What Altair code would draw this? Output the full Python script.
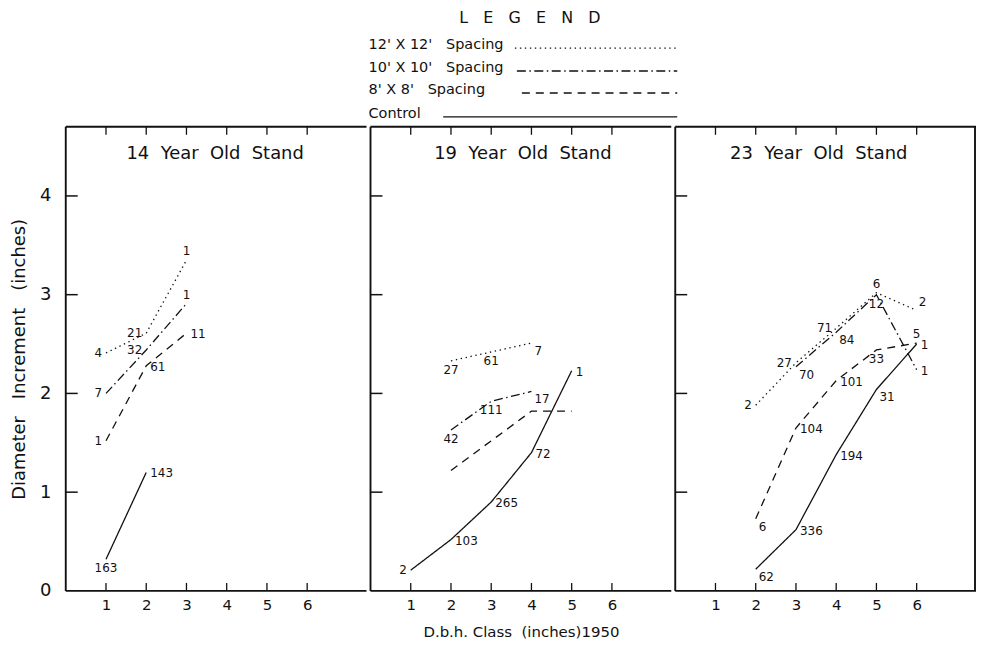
import altair as alt
import pandas as pd

FONT = "DejaVu Sans"
INK = "#111111"
NB = "\u00a0"

# ---------------- data ----------------
stands = ["14 Year Old Stand", "19 Year Old Stand", "23 Year Old Stand"]
spacings = ["12' X 12'" + NB * 3 + "Spacing", "10' X 10'" + NB * 3 + "Spacing",
            "8' X 8'" + NB * 3 + "Spacing", "Control"]
dbh_ticks = [1, 2, 3, 4, 5, 6]
increment_ticks = [0, 1, 2, 3, 4]
inner_y_ticks = [1, 2, 3, 4]
x_title = "D.b.h." + NB + "Class" + NB * 2 + "(inches)1950"
y_title = "Diameter" + NB * 3 + "Increment" + NB * 3 + "(inches)"
legend_title = "L E G E N D"

# 14 year old stand
s14_12_x = [1, 2, 3]
s14_12_y = [2.41, 2.61, 3.35]
s14_12_n = ["4", "21", "1"]
s14_12_pos = ["l", "l", "a"]
s14_10_x = [1, 2, 3]
s14_10_y = [2.0, 2.44, 2.91]
s14_10_n = ["7", "32", "1"]
s14_10_pos = ["l", "l", "a"]
s14_8_x = [1, 2, 3]
s14_8_y = [1.52, 2.28, 2.61]
s14_8_n = ["1", "61", "11"]
s14_8_pos = ["l", "r", "r"]
s14_c_x = [1, 2]
s14_c_y = [0.32, 1.2]
s14_c_n = ["163", "143"]
s14_c_pos = ["b", "r"]

# 19 year old stand
s19_12_x = [2, 3, 4]
s19_12_y = [2.33, 2.42, 2.51]
s19_12_n = ["27", "61", "7"]
s19_12_pos = ["b", "b", "br"]
s19_10_x = [2, 3, 4]
s19_10_y = [1.63, 1.92, 2.02]
s19_10_n = ["42", "111", "17"]
s19_10_pos = ["b", "b", "br"]
s19_8_x = [2, 4, 5]
s19_8_y = [1.22, 1.82, 1.82]
s19_8_n = ["", "", ""]
s19_8_pos = ["r", "r", "r"]
s19_c_x = [1, 2, 3, 4, 5]
s19_c_y = [0.21, 0.52, 0.9, 1.4, 2.23]
s19_c_n = ["2", "103", "265", "72", "1"]
s19_c_pos = ["l", "r", "r", "r", "r"]

# 23 year old stand
s23_12_x = [2, 3, 4, 5, 6]
s23_12_y = [1.88, 2.31, 2.66, 3.02, 2.84]
s23_12_n = ["2", "27", "71", "6", "2"]
s23_12_pos = ["l", "l", "l", "a", "ar"]
s23_10_x = [3, 4, 5, 6]
s23_10_y = [2.27, 2.62, 3.0, 2.24]
s23_10_n = ["70", "84", "12", "1"]
s23_10_pos = ["br", "br", "b", "r"]
s23_8_x = [2, 3, 4, 5, 6]
s23_8_y = [0.73, 1.65, 2.13, 2.44, 2.51]
s23_8_n = ["6", "104", "101", "33", "5"]
s23_8_pos = ["br", "r", "r", "b", "a"]
s23_c_x = [2, 3, 4, 5, 6]
s23_c_y = [0.22, 0.62, 1.38, 2.04, 2.5]
s23_c_n = ["62", "336", "194", "31", "1"]
s23_c_pos = ["br", "r", "r", "br", "r"]

records = []


def add(stand, series, xs, ys, ns, ps):
    for x, y, n, p in zip(xs, ys, ns, ps):
        records.append(dict(stand=stand, series=series, x=x, y=y, n=n, pos=p))


add(stands[0], spacings[0], s14_12_x, s14_12_y, s14_12_n, s14_12_pos)
add(stands[0], spacings[1], s14_10_x, s14_10_y, s14_10_n, s14_10_pos)
add(stands[0], spacings[2], s14_8_x, s14_8_y, s14_8_n, s14_8_pos)
add(stands[0], spacings[3], s14_c_x, s14_c_y, s14_c_n, s14_c_pos)
add(stands[1], spacings[0], s19_12_x, s19_12_y, s19_12_n, s19_12_pos)
add(stands[1], spacings[1], s19_10_x, s19_10_y, s19_10_n, s19_10_pos)
add(stands[1], spacings[2], s19_8_x, s19_8_y, s19_8_n, s19_8_pos)
add(stands[1], spacings[3], s19_c_x, s19_c_y, s19_c_n, s19_c_pos)
add(stands[2], spacings[0], s23_12_x, s23_12_y, s23_12_n, s23_12_pos)
add(stands[2], spacings[1], s23_10_x, s23_10_y, s23_10_n, s23_10_pos)
add(stands[2], spacings[2], s23_8_x, s23_8_y, s23_8_n, s23_8_pos)
add(stands[2], spacings[3], s23_c_x, s23_c_y, s23_c_n, s23_c_pos)
df = pd.DataFrame(records)

# ---------------- styling / layout ----------------
W, H = 302, 466
XS = alt.Scale(domain=[0, 7.475], nice=False, zero=False)
YS = alt.Scale(domain=[0, 4.7], nice=False, zero=False)
DASHES = [[1.4, 3.6], [9, 3.5, 1.5, 3.5], [8, 6], [1, 0]]
DASH = alt.Scale(domain=spacings, range=DASHES)
FRAME_W = 1.9

ANCHORS = {
    "l": dict(align="right", dx=-4, dy=0),
    "r": dict(align="left", dx=4, dy=1),
    "a": dict(align="center", dx=0, dy=-9),
    "b": dict(align="center", dx=0, dy=9),
    "br": dict(align="left", dx=3, dy=8),
    "ar": dict(align="left", dx=2, dy=-8),
}
TITLE_DX = [-1, 2, -7]


def panel(i):
    stand = stands[i]
    sub = df[df["stand"] == stand]
    xaxis = alt.Axis(
        values=dbh_ticks, ticks=False, domain=False, grid=False,
        labelFont=FONT, labelFontSize=15, labelColor=INK, labelPadding=7,
        title=x_title if i == 1 else "", titleFont=FONT, titleFontSize=15,
        titleFontWeight="normal", titleColor=INK, titlePadding=12,
    )
    if i == 0:
        yaxis = alt.Axis(
            values=increment_ticks, ticks=False, domain=False, grid=False,
            labelFont=FONT, labelFontSize=18, labelColor=INK, labelPadding=15,
            title=y_title, titleFont=FONT, titleFontSize=18,
            titleFontWeight="normal", titleColor=INK, titlePadding=11,
        )
    else:
        yaxis = None

    def X():
        return alt.X("x:Q", scale=XS, axis=xaxis)

    def Y():
        return alt.Y("y:Q", scale=YS, axis=yaxis)

    lines = alt.Chart(sub).mark_line(color=INK, strokeWidth=1.3).encode(
        x=X(),
        y=Y(),
        strokeDash=alt.StrokeDash("series:N", scale=DASH, legend=None),
        order=alt.Order("x:Q"),
    )
    layers = [lines]
    for code, a in ANCHORS.items():
        layers.append(
            alt.Chart(sub)
            .transform_filter(alt.datum.pos == code)
            .mark_text(font=FONT, fontSize=12, color=INK, baseline="middle",
                       align=a["align"], dx=a["dx"], dy=a["dy"])
            .encode(x=X(), y=Y(), text="n:N")
        )
    tick_df = pd.DataFrame({"x": dbh_ticks})
    layers.append(
        alt.Chart(tick_df).mark_rule(color=INK, strokeWidth=1.3).encode(
            x=X(), y=alt.value(0), y2=alt.value(8))
    )
    layers.append(
        alt.Chart(tick_df).mark_rule(color=INK, strokeWidth=1.3).encode(
            x=X(), y=alt.value(H), y2=alt.value(H - 8))
    )
    ytick_df = pd.DataFrame({"y": inner_y_ticks})
    layers.append(
        alt.Chart(ytick_df).mark_rule(color=INK, strokeWidth=1.5).encode(
            y=Y(), x=alt.value(0), x2=alt.value(12))
    )
    # frame: left, top, bottom edges (right edge only on the last panel)
    one = pd.DataFrame({"t": [stand]})
    layers.append(alt.Chart(one).mark_rule(color=INK, strokeWidth=FRAME_W).encode(
        x=alt.value(0), y=alt.value(0), y2=alt.value(H)))
    layers.append(alt.Chart(one).mark_rule(color=INK, strokeWidth=FRAME_W).encode(
        x=alt.value(0), x2=alt.value(W), y=alt.value(0)))
    layers.append(alt.Chart(one).mark_rule(color=INK, strokeWidth=FRAME_W).encode(
        x=alt.value(0), x2=alt.value(W), y=alt.value(H)))
    if i == len(stands) - 1:
        layers.append(alt.Chart(one).mark_rule(color=INK, strokeWidth=FRAME_W).encode(
            x=alt.value(W - 1), y=alt.value(0), y2=alt.value(H)))
    layers.append(
        alt.Chart(pd.DataFrame({"t": [stand.replace(" ", NB * 2)]}))
        .mark_text(font=FONT, fontSize=18, color=INK, baseline="middle", align="center")
        .encode(text="t:N", x=alt.value(W / 2 + TITLE_DX[i]), y=alt.value(27))
    )
    return alt.layer(*layers).properties(
        width=W, height=H, view=alt.ViewConfig(stroke="transparent"))


# legend block (page coordinates minus its origin)
LX0, LY0 = 64, 11
row_y = [44, 67, 89, 113]
line_x0 = [515, 517, 522, 443]
leg_layers = [
    alt.Chart(pd.DataFrame({"t": [legend_title.replace(" ", NB * 3)]}))
    .mark_text(font=FONT, fontSize=16, color=INK, baseline="middle", align="center")
    .encode(text="t:N", x=alt.value(530 - LX0), y=alt.value(6))
]
for k, s in enumerate(spacings):
    one = pd.DataFrame({"series": [s]})
    leg_layers.append(
        alt.Chart(one)
        .mark_text(font=FONT, fontSize=14.5, color=INK, baseline="middle", align="left")
        .encode(text="series:N", x=alt.value(368 - LX0), y=alt.value(row_y[k] - LY0))
    )
    leg_layers.append(
        alt.Chart(one)
        .mark_rule(color=INK, strokeWidth=1.4, strokeDash=DASHES[k])
        .encode(x=alt.value(line_x0[k] - LX0), x2=alt.value(678 - LX0),
                y=alt.value(row_y[k] + 3 - LY0))
    )
legend = alt.layer(*leg_layers).properties(
    width=800, height=112, view=alt.ViewConfig(stroke="transparent")
)

panels = alt.hconcat(panel(0), panel(1), panel(2), spacing=0)
chart = (
    alt.vconcat(legend, panels, spacing=0)
    .properties(padding={"left": 2, "top": 0, "right": 0, "bottom": 0},
                background="white")
    .configure(font=FONT)
)

chart.save("out.html", embed_options={"renderer": "svg", "actions": False})
